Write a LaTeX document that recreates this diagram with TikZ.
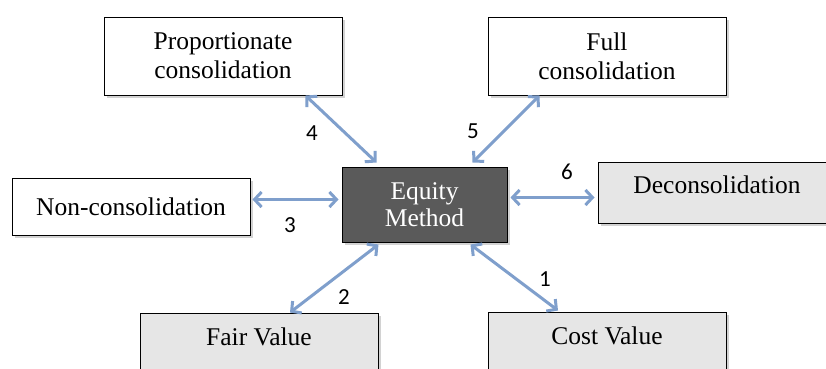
\documentclass[tikz,border=0pt]{standalone}
\usepackage{fontspec}
\setmainfont{Liberation Serif}
\newfontfamily\numfont{Carlito}
\usetikzlibrary{shadows,arrows.meta,calc}
\definecolor{arrowblue}{HTML}{7F9FCC}
\definecolor{lightbox}{HTML}{E6E6E6}
\definecolor{darkbox}{HTML}{5A5A5A}
\tikzset{
  box/.style={draw=black, line width=1pt, minimum width=238pt, inner sep=0pt,
    align=center, font=\fontsize{25.5}{29}\selectfont, fill=white,
    drop shadow={opacity=0.35, shadow xshift=2.5pt, shadow yshift=-2.5pt}},
  graybox/.style={box, fill=lightbox},
  eqbox/.style={box, fill=darkbox, text=white, minimum width=165pt, minimum height=75pt,
    font=\fontsize{25.5}{27}\selectfont},
  link/.style={draw=arrowblue, line width=3pt, {Straight Barb[length=7pt,width=15pt]}-{Straight Barb[length=7pt,width=15pt]}},
  num/.style={font=\numfont\fontsize{23}{25}\selectfont, inner sep=0pt}
}
\begin{document}
\begin{tikzpicture}[x=1pt,y=-1pt]
\clip (0,0) rectangle (826,368);
\fill[white] (0,0) rectangle (826,368);
\node[box, minimum height=78pt] (prop) at (223,56) {Proportionate\\consolidation};
\node[box, minimum height=78pt] (full) at (607,56) {Full\\consolidation};
\node[box, minimum height=57pt] (nc) at (131,206.5) {Non-consolidation};
\node[eqbox] (eq) at (424.5,204.5) {Equity\\Method};
\node[graybox, text height=31pt, text depth=30pt] (decon) at (717,192.5) {Deconsolidation};
\node[graybox, text height=32pt, text depth=46pt] (fair) at (259,352) {Fair Value};
\node[graybox, text height=32pt, text depth=46pt] (cost) at (607,351) {Cost Value};

\draw[link] ([xshift=-37pt]prop.south east) -- ([xshift=35pt,yshift=4pt]eq.north west);
\draw[link] ([xshift=52pt]full.south west) -- ([xshift=-35pt,yshift=4pt]eq.north east);
\draw[link] ([xshift=3pt,yshift=7pt]eq.east) -- ([xshift=-3pt,yshift=-5pt]decon.west);
\draw[link] ([xshift=2pt,yshift=7pt]nc.east) -- ([xshift=-3pt,yshift=5pt]eq.west);
\draw[link] ([xshift=31pt]fair.north) -- ([xshift=37pt,yshift=-2pt]eq.south west);
\draw[link] ([xshift=-37pt,yshift=-2pt]eq.south east) -- ([xshift=-49pt,yshift=1pt]cost.north);

\node[num] (l4) at (312,133) {4};
\node[num] (l5) at (473,131) {5};
\node[num] (l6) at (567,172) {6};
\node[num] (l3) at (290,225) {3};
\node[num] (l2) at (344,297) {2};
\node[num] (l1) at (545,279) {1};
\end{tikzpicture}
\end{document}
